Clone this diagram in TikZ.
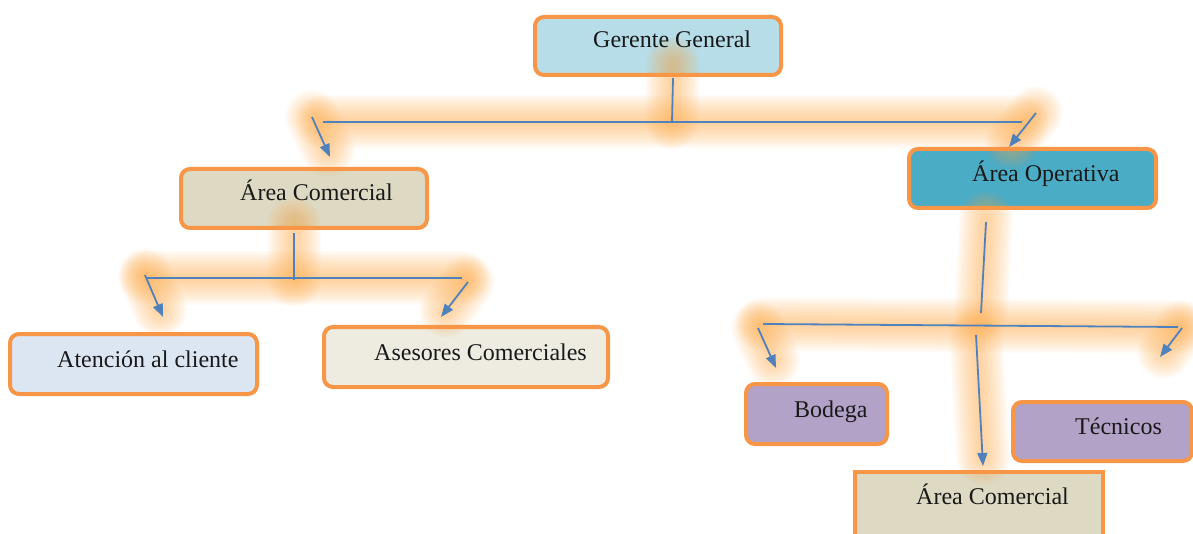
\documentclass[tikz,border=0pt]{standalone}
\usepackage{fontspec}
\setmainfont{Liberation Serif}
\usetikzlibrary{arrows.meta}
\definecolor{borderor}{HTML}{F79646}
\definecolor{linecol}{HTML}{4F81BD}
\definecolor{glowcol}{RGB}{252,168,70}
\definecolor{fgerente}{HTML}{B7DDE8}
\definecolor{ftan}{HTML}{DDD9C3}
\definecolor{foper}{HTML}{4BACC6}
\definecolor{fatencion}{HTML}{DCE6F2}
\definecolor{fasesor}{HTML}{EEECE1}
\definecolor{fpurple}{HTML}{B2A2C7}
\tikzset{
  box/.style={draw=borderor, line width=4pt, rounded corners=9pt, inner sep=0pt},
  lbl/.style={font=\fontsize{24}{28}\selectfont, inner sep=0pt, anchor=base west, text=black!90},
  conn/.style={draw=linecol, line width=1.8pt},
  arr/.style={conn, -{Triangle[length=13pt,width=10pt]}},
  glowA/.style={draw=glowcol, line cap=round, line join=round, opacity=0.04, line width=#1},
}
\newcommand{\glowpath}[1]{\foreach \w in {54,51,...,6}{\draw[glowA=\w pt] #1;}}
\begin{document}
\begin{tikzpicture}[x=1pt,y=-1pt]
\useasboundingbox (0,0) rectangle (1193,534);
\clip (0,0) rectangle (1193,534);
% boxes
\node[box, fill=fgerente, minimum width=246pt, minimum height=58pt] (g) at (658,46) {};
\node[box, fill=ftan, minimum width=246pt, minimum height=59pt] (ac) at (304,198.5) {};
\node[box, fill=foper, minimum width=247pt, minimum height=59pt] (ao) at (1032.5,178.5) {};
\node[box, fill=fatencion, minimum width=247pt, minimum height=60pt] (at) at (133.5,364) {};
\node[box, fill=fasesor, minimum width=284pt, minimum height=60pt] (as) at (466,357) {};
\node[box, fill=fpurple, minimum width=141pt, minimum height=60pt] (bo) at (816.5,414) {};
\node[box, fill=fpurple, minimum width=179pt, minimum height=59pt] (te) at (1102.5,431.5) {};
\node[box, rounded corners=0pt, fill=ftan, minimum width=248pt, minimum height=88pt] (ac2) at (979,516) {};
% coordinates
\coordinate (g1) at (673,78);
\coordinate (g2) at (672,122);
\coordinate (h1l) at (323,122);
\coordinate (h1r) at (1022,122);
\coordinate (a1s) at (312,117);
\coordinate (a1e) at (330,157);
\coordinate (a2s) at (1036,113);
\coordinate (a2e) at (1009,147);
\coordinate (c1) at (294,233);
\coordinate (c2) at (294,280);
\coordinate (h2l) at (146,278);
\coordinate (h2r) at (462,278);
\coordinate (a3s) at (145,275);
\coordinate (a3e) at (163,317);
\coordinate (a4s) at (468,282);
\coordinate (a4e) at (441,317);
\coordinate (o1) at (986,222);
\coordinate (o2) at (981,313);
\coordinate (h3l) at (763,324);
\coordinate (h3r) at (1178,327);
\coordinate (a5s) at (758,328);
\coordinate (a5e) at (776,368);
\coordinate (a6s) at (1182,328);
\coordinate (a6e) at (1160,357);
\coordinate (a7s) at (976,335);
\coordinate (a7e) at (983,466);
% glow
\glowpath{(673,64) -- (g2)}
\glowpath{(h1l) -- (h1r)}
\glowpath{(a1s) -- (328,150)}
\glowpath{(a2s) -- (1012,142)}
\glowpath{(294,224) -- (c2)}
\glowpath{(h2l) -- (h2r)}
\glowpath{(a3s) -- (160,310)}
\glowpath{(a4s) -- (446,311)}
\glowpath{(986,218) -- (o2)}
\glowpath{(h3l) -- (h3r)}
\glowpath{(a5s) -- (773,360)}
\glowpath{(a6s) -- (1164,352)}
\glowpath{(a7s) -- (983,458)}
% connectors
\draw[conn] (g1) -- (g2);
\draw[conn] (h1l) -- (h1r);
\draw[arr] (a1s) -- (a1e);
\draw[arr] (a2s) -- (a2e);
\draw[conn] (c1) -- (c2);
\draw[conn] (h2l) -- (h2r);
\draw[arr] (a3s) -- (a3e);
\draw[arr] (a4s) -- (a4e);
\draw[conn] (o1) -- (o2);
\draw[conn] (h3l) -- (h3r);
\draw[arr] (a5s) -- (a5e);
\draw[arr] (a6s) -- (a6e);
\draw[arr] (a7s) -- (a7e);
% labels
\node[lbl] (tg) at (593,48) {Gerente General};
\node[lbl] (tac) at (240,201) {Área Comercial};
\node[lbl] (tao) at (972,182) {Área Operativa};
\node[lbl] (tat) at (57,367) {Atención al cliente};
\node[lbl] (tas) at (374,360) {Asesores Comerciales};
\node[lbl] (tbo) at (794,417) {Bodega};
\node[lbl] (tte) at (1075,434) {Técnicos};
\node[lbl] (tac2) at (916,504) {Área Comercial};
\end{tikzpicture}
\end{document}
